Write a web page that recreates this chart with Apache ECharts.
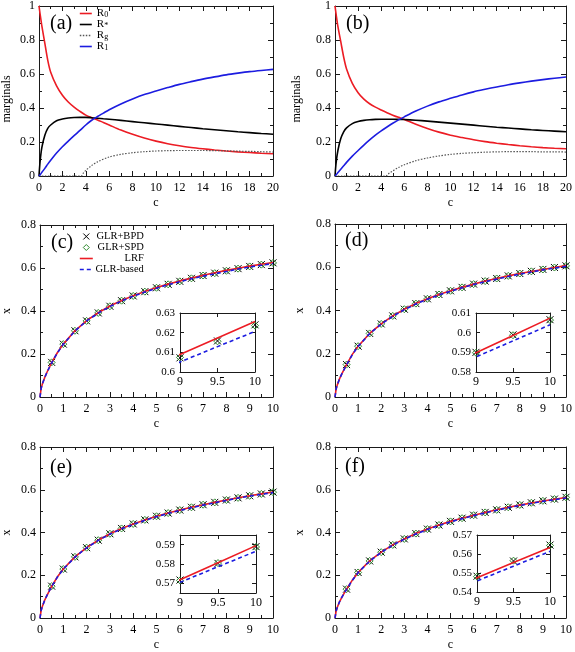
<!DOCTYPE html>
<html><head><meta charset="utf-8">
<script src="https://cdn.jsdelivr.net/npm/echarts@6/dist/echarts.min.js"></script>
<style>html,body{margin:0;padding:0;background:#fff}#chart{width:575px;height:652px}</style>
</head><body><div id="chart"></div>
<script>
// ---------- data: panels (a),(b) marginals vs c ----------
const cM = [0,0.1,0.25,0.5,0.75,1,1.5,2,2.5,3,3.5,4,4.5,5,5.5,6,7,8,9,10,11,12,13,14,15,16,17,18,19,20];
const R0_a = [1.0,0.95,0.88,0.78,0.68,0.61,0.53,0.475,0.435,0.405,0.38,0.358,0.343,0.33,0.315,0.30,0.27,0.245,0.223,0.205,0.19,0.178,0.168,0.16,0.153,0.147,0.142,0.138,0.134,0.131];
const Rs_a = [0,0.09,0.17,0.24,0.28,0.30,0.325,0.335,0.341,0.344,0.345,0.345,0.343,0.34,0.337,0.334,0.327,0.32,0.313,0.306,0.299,0.292,0.285,0.278,0.272,0.266,0.26,0.255,0.25,0.246];
const R1_a = [0,0.008,0.022,0.045,0.07,0.093,0.135,0.172,0.205,0.237,0.268,0.30,0.328,0.35,0.37,0.39,0.424,0.453,0.479,0.5,0.52,0.539,0.555,0.57,0.583,0.595,0.605,0.614,0.621,0.627];
const cG_a = [0,3.6,3.8,4,4.5,5,6,7,8,9,10,11,12,13,14,15,16,17,18,19,20];
const Rg_a = [0,0,0.018,0.033,0.062,0.083,0.112,0.127,0.137,0.143,0.147,0.149,0.15,0.15,0.15,0.149,0.148,0.146,0.145,0.143,0.141];

const R0_b = [1.0,0.95,0.88,0.79,0.70,0.63,0.545,0.49,0.452,0.425,0.405,0.388,0.372,0.358,0.345,0.333,0.305,0.28,0.258,0.24,0.226,0.213,0.202,0.193,0.185,0.178,0.172,0.167,0.163,0.16];
const Rs_b = [0,0.08,0.15,0.22,0.26,0.283,0.308,0.32,0.327,0.331,0.333,0.334,0.334,0.334,0.333,0.332,0.328,0.323,0.317,0.311,0.305,0.299,0.293,0.287,0.282,0.277,0.272,0.268,0.264,0.26];
const R1_b = [0,0.007,0.02,0.04,0.06,0.08,0.117,0.15,0.182,0.212,0.24,0.265,0.288,0.31,0.33,0.348,0.382,0.411,0.436,0.457,0.477,0.495,0.51,0.524,0.537,0.548,0.558,0.567,0.575,0.582];
const cG_b = [0,4.4,4.6,5,5.5,6,7,8,9,10,11,12,13,14,15,16,17,18,19,20];
const Rg_b = [0,0,0.012,0.03,0.05,0.066,0.09,0.106,0.118,0.127,0.133,0.137,0.14,0.142,0.143,0.143,0.143,0.142,0.142,0.141];

// ---------- data: panels (c)-(f) x vs c ----------
const cL = [0,0.05,0.1,0.2,0.3,0.5,0.75,1,1.5,2,2.5,3,3.5,4,4.5,5,5.5,6,6.5,7,7.5,8,8.5,9,9.5,10];
const cP = [0.5,1,1.5,2,2.5,3,3.5,4,4.5,5,5.5,6,6.5,7,7.5,8,8.5,9,9.5,10];

const LRF_c = [0,0.04,0.06,0.09,0.115,0.16,0.207,0.246,0.308,0.355,0.392,0.423,0.449,0.471,0.491,0.509,0.525,0.54,0.553,0.566,0.578,0.589,0.5992,0.6089,0.6173,0.6257];
const GLR_c = [0,0.04,0.06,0.09,0.115,0.159,0.206,0.245,0.307,0.354,0.39,0.421,0.447,0.469,0.488,0.506,0.522,0.536,0.55,0.562,0.573,0.584,0.595,0.6051,0.6129,0.6206];
const BPD_c = [0.161,0.246,0.308,0.354,0.391,0.422,0.448,0.47,0.49,0.508,0.524,0.538,0.552,0.565,0.576,0.587,0.597,0.6072,0.6158,0.624];
const SPD_c = [0.161,0.246,0.308,0.354,0.391,0.422,0.448,0.47,0.49,0.508,0.524,0.538,0.552,0.565,0.576,0.587,0.597,0.6074,0.6156,0.6236];

const LRF_d = [0,0.038,0.056,0.085,0.108,0.15,0.197,0.235,0.294,0.338,0.375,0.406,0.432,0.454,0.474,0.491,0.507,0.522,0.536,0.548,0.56,0.571,0.5805,0.5898,0.5986,0.6074];
const GLR_d = [0,0.038,0.056,0.085,0.108,0.149,0.196,0.234,0.293,0.337,0.373,0.404,0.43,0.452,0.472,0.489,0.505,0.52,0.533,0.545,0.557,0.568,0.578,0.5877,0.5958,0.604];
const BPD_d = [0.150,0.235,0.294,0.338,0.375,0.406,0.432,0.454,0.474,0.491,0.507,0.522,0.536,0.548,0.56,0.571,0.581,0.590,0.5989,0.6066];
const SPD_d = [0.150,0.235,0.294,0.338,0.375,0.406,0.432,0.454,0.474,0.491,0.507,0.522,0.536,0.548,0.56,0.571,0.581,0.5898,0.5987,0.6064];

const LRF_e = [0,0.036,0.054,0.083,0.106,0.148,0.193,0.229,0.286,0.329,0.364,0.394,0.419,0.44,0.459,0.476,0.491,0.505,0.518,0.53,0.541,0.552,0.5625,0.5719,0.5807,0.5895];
const GLR_e = [0,0.036,0.054,0.083,0.106,0.147,0.192,0.228,0.285,0.328,0.363,0.392,0.417,0.438,0.457,0.474,0.489,0.503,0.516,0.528,0.539,0.55,0.561,0.5705,0.5786,0.5866];
const BPD_e = [0.149,0.229,0.286,0.329,0.364,0.394,0.419,0.44,0.459,0.476,0.491,0.505,0.518,0.53,0.541,0.552,0.562,0.5717,0.5803,0.589];
const SPD_e = [0.149,0.229,0.286,0.329,0.364,0.394,0.419,0.44,0.459,0.476,0.491,0.505,0.518,0.53,0.541,0.552,0.562,0.5715,0.5805,0.5888];

const LRF_f = [0,0.033,0.05,0.077,0.098,0.135,0.177,0.213,0.267,0.308,0.342,0.37,0.395,0.416,0.435,0.452,0.467,0.481,0.494,0.506,0.518,0.528,0.538,0.5475,0.5555,0.5634];
const GLR_f = [0,0.033,0.05,0.077,0.098,0.134,0.176,0.212,0.266,0.307,0.341,0.369,0.393,0.414,0.433,0.45,0.465,0.479,0.492,0.504,0.516,0.526,0.536,0.5458,0.5536,0.5614];
const BPD_f = [0.135,0.213,0.267,0.308,0.342,0.37,0.395,0.416,0.435,0.452,0.467,0.481,0.494,0.506,0.518,0.529,0.539,0.5483,0.5563,0.5647];
const SPD_f = [0.135,0.213,0.267,0.308,0.342,0.37,0.395,0.416,0.435,0.452,0.467,0.481,0.494,0.506,0.518,0.529,0.539,0.5481,0.5565,0.5645];

// tick settings
const marginalTicks = {xmin:0, xmax:20, xint:2, ymin:0, ymax:1, yint:0.2};
const xTicks = {xmin:0, xmax:10, xint:1, ymin:0, ymax:0.8, yint:0.2};
const insetX = {xmin:9, xmax:10, xint:0.5};
const insetY_c = [0.6, 0.63, 0.01];
const insetY_d = [0.58, 0.61, 0.01];
const insetY_e = [0.565, 0.595, [0.57, 0.58, 0.59]];
const insetY_f = [0.54, 0.57, 0.01];

// ---------- build ----------
const FONT = 'Liberation Serif';
const AX = '#1a1a1a';
const RED = '#ec1c24', BLUE = '#1c1ce0', GREEN = '#2e8b2e', GRAYDOT = '#555';
const CROSS = 'path://M0,0L7,7M7,0L0,7';
const DIAMOND = 'path://M3.5,0L7,3.5L3.5,7L0,3.5Z';

const grids = [], xAxes = [], yAxes = [], series = [], titles = [];

function axisBase(gi, min, max, interval, custom, inset, fs) {
  const o = {
    type:'value', gridIndex:gi, min:min, max:max,
    axisLine:{show:true, onZero:false, lineStyle:{color:AX, width:1}},
    axisTick:{show:true, inside:true, length: inset ? 4 : 5, lineStyle:{color:AX, width:1}},
    minorTick:{show:!inset, splitNumber:2, length:3, lineStyle:{color:AX, width:1}},
    splitLine:{show:false}, minorSplitLine:{show:false},
    axisLabel:{show:true, color:'#000', fontFamily:FONT, fontSize:fs}
  };
  if (custom) { o.axisLabel.customValues = custom; o.axisTick.customValues = custom; }
  else o.interval = interval;
  return o;
}

function addGrid(rect, t, opts) {
  const gi = grids.length;
  const inset = !!opts.inset;
  grids.push(Object.assign({show: inset, backgroundColor:'#fff', borderWidth:0, containLabel:false}, rect));
  const fsx = 12, fsy = inset ? 11 : 12;
  const xb = axisBase(gi, t.xmin, t.xmax, t.xint, null, inset, fsx);
  xb.axisLabel.margin = inset ? 4 : 6;
  if (opts.xname) {
    xb.name = opts.xname; xb.nameLocation = 'middle'; xb.nameGap = opts.xgap;
    xb.nameTextStyle = {fontFamily:FONT, fontSize:12, color:'#000'};
  }
  xAxes.push(Object.assign(xb, {position:'bottom'}));
  const xt = axisBase(gi, t.xmin, t.xmax, t.xint, null, inset, fsx);
  xt.axisLabel = {show:false};
  xAxes.push(Object.assign(xt, {position:'top'}));

  const yb = axisBase(gi, t.ymin, t.ymax, t.yint, t.ycustom, inset, fsy);
  yb.axisLabel.margin = inset ? 5 : 4;
  if (opts.yname) {
    yb.name = opts.yname; yb.nameLocation = 'middle'; yb.nameGap = opts.ygap; yb.nameRotate = 90;
    yb.nameTextStyle = {fontFamily:FONT, fontSize:12, color:'#000', padding: opts.ypad || 0};
  }
  yAxes.push(Object.assign(yb, {position:'left'}));
  const yt = axisBase(gi, t.ymin, t.ymax, t.yint, t.ycustom, inset, fsy);
  yt.axisLabel = {show:false};
  yAxes.push(Object.assign(yt, {position:'right'}));
  return gi;
}

function zip(xs, ys) { return xs.map((x, i) => [x, ys[i]]); }

function lineS(gi, name, xs, ys, color, width, type, smooth) {
  series.push({
    type:'line', name:name, xAxisIndex:2*gi, yAxisIndex:2*gi, data:zip(xs, ys),
    symbol:'none', showSymbol:false, smooth:smooth || false, clip:true,
    lineStyle:{color:color, width:width, type:type}, itemStyle:{color:color},
    silent:true, animation:false
  });
}
function scatterS(gi, name, xs, ys, sym, color) {
  series.push({
    type:'scatter', name:name, xAxisIndex:2*gi, yAxisIndex:2*gi, data:zip(xs, ys),
    symbol:sym, symbolSize:7, clip:true,
    itemStyle:{color:'rgba(0,0,0,0)', borderColor:color, borderWidth:1, opacity:1},
    silent:true, animation:false
  });
}

function marginalPanel(rect, R0, Rs, Rg, cG, R1, ygap) {
  const gi = addGrid(rect, marginalTicks, {xname:'c', xgap:21, yname:'marginals', ygap:ygap, ypad:[0,16,0,0]});
  lineS(gi, 'R0', cM, R0, RED, 1.6, 'solid', 0.3);
  lineS(gi, 'R*', cM, Rs, '#000', 1.6, 'solid', 0.3);
  lineS(gi, 'Rg', cG, Rg, GRAYDOT, 1.2, [1.5, 1.5], 0.3);
  lineS(gi, 'R1', cM, R1, BLUE, 1.6, 'solid', 0.3);
}
function xPanel(rect, irect, iy, BPD, SPD, LRF, GLR, ygap) {
  const gi = addGrid(rect, xTicks, {xname:'c', xgap:21, yname:'x', ygap:ygap});
  scatterS(gi, 'GLR+BPD', cP, BPD, CROSS, '#000');
  scatterS(gi, 'GLR+SPD', cP, SPD, DIAMOND, GREEN);
  lineS(gi, 'LRF', cL, LRF, RED, 1.6, 'solid');
  lineS(gi, 'GLR-based', cL, GLR, BLUE, 1.6, [4, 3]);
  const t = {xmin:insetX.xmin, xmax:insetX.xmax, xint:insetX.xint, ymin:iy[0], ymax:iy[1]};
  if (Array.isArray(iy[2])) t.ycustom = iy[2]; else t.yint = iy[2];
  const ii = addGrid(irect, t, {inset:true});
  scatterS(ii, 'GLR+BPD', cP, BPD, CROSS, '#000');
  scatterS(ii, 'GLR+SPD', cP, SPD, DIAMOND, GREEN);
  lineS(ii, 'LRF', cL, LRF, RED, 1.6, 'solid');
  lineS(ii, 'GLR-based', cL, GLR, BLUE, 1.6, [4, 3]);
}

marginalPanel({left:39, top:4, width:234, height:172}, R0_a, Rs_a, Rg_a, cG_a, R1_a, 26);
marginalPanel({left:335, top:4, width:233, height:172}, R0_b, Rs_b, Rg_b, cG_b, R1_b, 32);
xPanel({left:39, top:225, width:234, height:172}, {left:180, top:313, width:75, height:59}, insetY_c, BPD_c, SPD_c, LRF_c, GLR_c, 27);
xPanel({left:335, top:224, width:233, height:173}, {left:476, top:313, width:74, height:59}, insetY_d, BPD_d, SPD_d, LRF_d, GLR_d, 29);
xPanel({left:39, top:447, width:234, height:172}, {left:180, top:535, width:76, height:58}, insetY_e, BPD_e, SPD_e, LRF_e, GLR_e, 27);
xPanel({left:335, top:447, width:233, height:171}, {left:477, top:535, width:73, height:57}, insetY_f, BPD_f, SPD_f, LRF_f, GLR_f, 29);

const panelLabels = [['(a)',50,14],['(b)',346,14],['(c)',51,233],['(d)',345,231],['(e)',50,458],['(f)',345,457]];
panelLabels.forEach(p => titles.push({
  text:p[0], left:p[1], top:p[2], padding:0,
  textStyle:{fontFamily:FONT, fontSize:20, fontWeight:'normal', color:'#000', lineHeight:20}
}));

const subMap = {'R0':'0', 'R*':'*', 'Rg':'g', 'R1':'1'};
const hideDot = {opacity:0};
const legends = [
  {
    data:['R0','R*','Rg','R1'].map(n => ({name:n, itemStyle:hideDot})),
    orient:'vertical', left:79, top:8, padding:0,
    itemWidth:12, itemHeight:6, itemGap:0, selectedMode:false,
    lineStyle:{width:1.6},
    formatter: n => '{m|R}{s|' + subMap[n] + '}',
    textStyle:{fontFamily:FONT, color:'#000', rich:{
      m:{fontFamily:FONT, fontSize:11, lineHeight:11, verticalAlign:'middle', color:'#000'},
      s:{fontFamily:FONT, fontSize:8, lineHeight:5, verticalAlign:'bottom', color:'#000'}
    }}
  },
  {
    data:[{name:'GLR+BPD'},{name:'GLR+SPD'},{name:'LRF', itemStyle:hideDot},{name:'GLR-based', itemStyle:hideDot}],
    orient:'vertical', left:79, top:231, padding:0, symbolKeepAspect:true,
    itemWidth:13, itemHeight:6, itemGap:0, selectedMode:false,
    itemStyle:{borderWidth:1}, lineStyle:{width:1.6},
    formatter: n => '{t|' + n + '}',
    textStyle:{fontFamily:FONT, color:'#000', rich:{
      t:{fontFamily:FONT, fontSize:10.5, lineHeight:11.7, width:46, align:'right', color:'#000'}
    }}
  }
];

const chart = echarts.init(document.getElementById('chart'), null, {renderer:'canvas'});
chart.setOption({
  animation:false, backgroundColor:'#fff',
  title:titles, legend:legends, grid:grids, xAxis:xAxes, yAxis:yAxes, series:series
});
</script></body></html>
